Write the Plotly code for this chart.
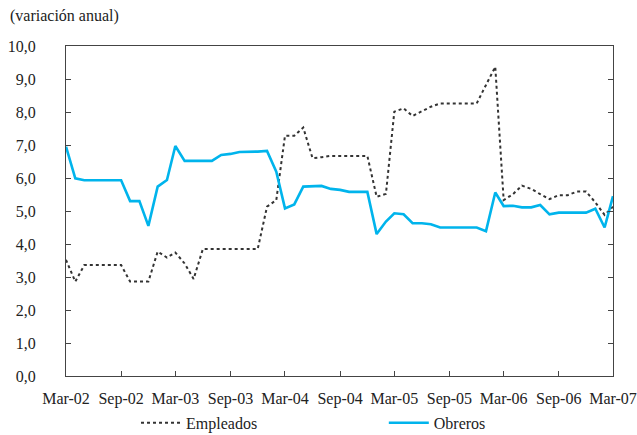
import plotly.graph_objects as go
import pandas as pd

months = pd.date_range("2002-03-01", "2007-03-01", freq="MS").strftime("%Y-%m-%d").tolist()

empleados = [3.52, 2.86, 3.36, 3.36, 3.36, 3.36, 3.36, 2.86, 2.86, 2.86,
             3.77, 3.59, 3.74, 3.41, 2.94, 3.85, 3.85, 3.85, 3.85, 3.85,
             3.85, 3.85, 5.13, 5.33, 7.28, 7.28, 7.53, 6.60, 6.63, 6.67,
             6.67, 6.67, 6.67, 6.67, 5.43, 5.52, 8.01, 8.11, 7.88, 8.01,
             8.16, 8.26, 8.26, 8.26, 8.26, 8.26, 8.82, 9.37, 5.33, 5.51,
             5.77, 5.67, 5.51, 5.36, 5.48, 5.48, 5.59, 5.59, 5.26, 4.88,
             5.13]

obreros = [6.95, 5.99, 5.93, 5.93, 5.93, 5.93, 5.93, 5.30, 5.30, 4.55,
           5.74, 5.94, 6.97, 6.52, 6.52, 6.52, 6.52, 6.70, 6.73, 6.79,
           6.79, 6.80, 6.82, 6.19, 5.08, 5.20, 5.74, 5.74, 5.76, 5.67,
           5.64, 5.58, 5.58, 5.58, 4.30, 4.68, 4.93, 4.90, 4.63, 4.63,
           4.60, 4.50, 4.50, 4.50, 4.50, 4.50, 4.39, 5.56, 5.15, 5.16,
           5.11, 5.11, 5.18, 4.90, 4.95, 4.95, 4.95, 4.95, 5.07, 4.50,
           5.45]

x_tick_vals = ["2002-03-01", "2002-09-01", "2003-03-01", "2003-09-01", "2004-03-01",
               "2004-09-01", "2005-03-01", "2005-09-01", "2006-03-01", "2006-09-01",
               "2007-03-01"]
x_tick_text = ["Mar-02", "Sep-02", "Mar-03", "Sep-03", "Mar-04", "Sep-04",
               "Mar-05", "Sep-05", "Mar-06", "Sep-06", "Mar-07"]
y_tick_vals = [0, 1, 2, 3, 4, 5, 6, 7, 8, 9, 10]
y_tick_text = ["0,0", "1,0", "2,0", "3,0", "4,0", "5,0", "6,0", "7,0", "8,0", "9,0", "10,0"]

font = dict(family="Times New Roman, Liberation Serif, serif", size=16, color="#222")

fig = go.Figure()
fig.add_trace(go.Scatter(x=months, y=empleados, name="Empleados", mode="lines",
                         line=dict(color="#333333", width=2, dash="dot"), legend="legend"))
fig.add_trace(go.Scatter(x=months, y=obreros, name="Obreros", mode="lines",
                         line=dict(color="#00B4EC", width=2.6), legend="legend2"))

fig.update_layout(
    width=637, height=435,
    margin=dict(l=66, r=24, t=46, b=59, autoexpand=False),
    paper_bgcolor="white", plot_bgcolor="white",
    font=font,
    showlegend=True,
    legend=dict(orientation="h", x=0.128, xanchor="left", y=-0.142, yanchor="middle",
                font=font, itemwidth=40, bgcolor="rgba(0,0,0,0)"),
    legend2=dict(orientation="h", x=0.581, xanchor="left", y=-0.142, yanchor="middle",
                 font=font, itemwidth=40, bgcolor="rgba(0,0,0,0)"),
    annotations=[dict(text="(variación anual)", xref="paper", yref="paper",
                      x=-0.106, y=1.091, xanchor="left", yanchor="middle",
                      showarrow=False, font=font)],
)
fig.update_xaxes(
    type="date", range=["2002-03-01", "2007-03-01"],
    tickvals=x_tick_vals, ticktext=x_tick_text,
    ticks="inside", ticklen=5, tickcolor="#444",
    showline=True, linecolor="#444", linewidth=1, mirror=True,
    showgrid=False, zeroline=False, ticklabelstandoff=8, automargin=False,
)
fig.update_yaxes(
    range=[0, 10], tickvals=y_tick_vals, ticktext=y_tick_text,
    ticks="inside", ticklen=5, tickcolor="#444",
    showline=True, linecolor="#444", linewidth=1, mirror="ticks",
    showgrid=False, zeroline=False, ticklabelstandoff=26, automargin=False,
)

fig.write_html(
    "out.html",
    config={"displayModeBar": False},
    post_script="document.body.style.margin='0';document.body.style.overflow='hidden';",
)
